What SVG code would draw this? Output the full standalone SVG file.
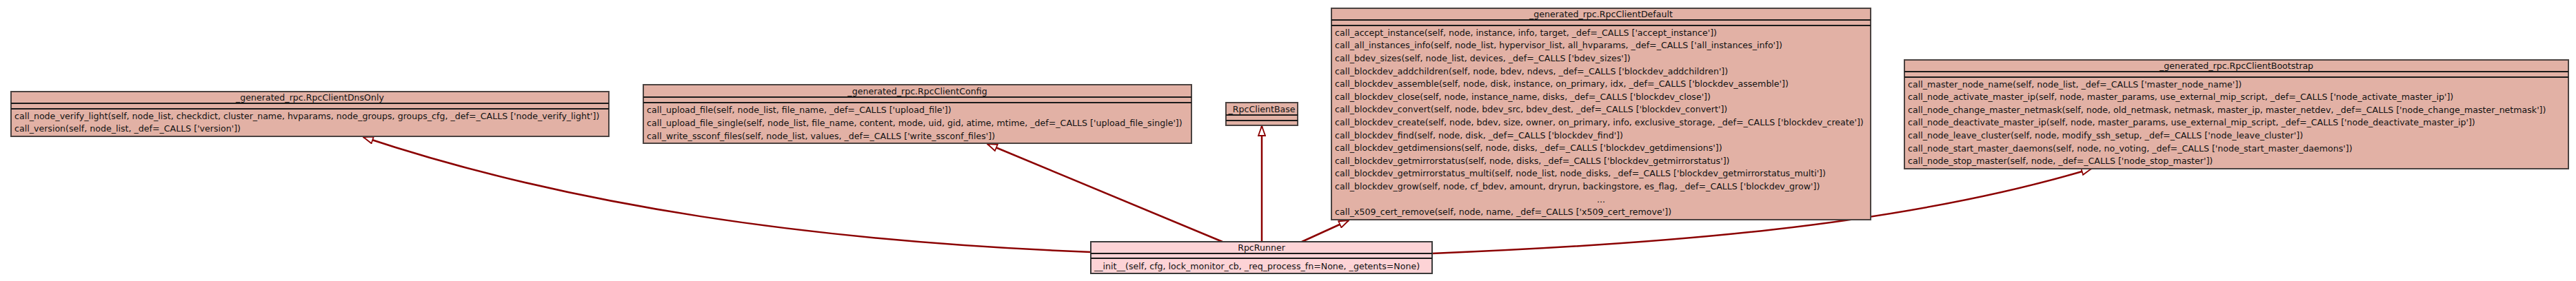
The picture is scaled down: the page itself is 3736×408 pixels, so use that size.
<svg xmlns="http://www.w3.org/2000/svg" width="3736" height="408" viewBox="0 0 3736 408">
<style>
.box{fill:#e2b1a5;stroke:#4a4240;stroke-width:2}
.runner{fill:#fdd3d6;stroke:#3a3a3a;stroke-width:2}
.div{stroke:#1a1a1a;stroke-width:2}
text{font-family:"DejaVu Sans",sans-serif;font-size:12.6px;fill:#111}
.t{text-anchor:middle}
.edge{fill:none;stroke:#8b0000;stroke-width:2.5;marker-end:url(#tri)}
</style>
<defs>
<marker id="tri" viewBox="0 0 16 12" refX="15" refY="6" markerWidth="16" markerHeight="12" markerUnits="userSpaceOnUse" orient="auto">
<path d="M1,1 L15,6 L1,11 Z" fill="#fff" stroke="#8b0000" stroke-width="1.8"/>
</marker>
</defs>
<rect width="3736" height="408" fill="#fff"/>
<g id="connectors">
<path class="edge" d="M1582,366 C1180,350 830,300 527,199"/>
<path class="edge" d="M1773,351 L1432,209"/>
<path class="edge" d="M1830,351 L1830,183"/>
<path class="edge" d="M1888,351 L1956,320"/>
<path class="edge" d="M2077,368 C2400,355 2750,330 3033,245"/>
</g>
<g id="RpcClientDnsOnly">
<rect class="box" x="16" y="133" width="867" height="65"/>
<line class="div" x1="16" y1="150" x2="883" y2="150"/>
<line class="div" x1="16" y1="158" x2="883" y2="158"/>
<text class="t" x="449.5" y="146">_generated_rpc.RpcClientDnsOnly</text>
<text x="21" y="172.5">call_node_verify_light(self, node_list, checkdict, cluster_name, hvparams, node_groups, groups_cfg, _def=_CALLS ['node_verify_light'])</text>
<text x="21" y="191">call_version(self, node_list, _def=_CALLS ['version'])</text>
</g>
<g id="RpcClientConfig">
<rect class="box" x="933" y="123" width="795" height="85"/>
<line class="div" x1="933" y1="141" x2="1728" y2="141"/>
<line class="div" x1="933" y1="149" x2="1728" y2="149"/>
<text class="t" x="1330.5" y="136.5">_generated_rpc.RpcClientConfig</text>
<text x="938" y="163.5">call_upload_file(self, node_list, file_name, _def=_CALLS ['upload_file'])</text>
<text x="938" y="182.5">call_upload_file_single(self, node_list, file_name, content, mode, uid, gid, atime, mtime, _def=_CALLS ['upload_file_single'])</text>
<text x="938" y="201.5">call_write_ssconf_files(self, node_list, values, _def=_CALLS ['write_ssconf_files'])</text>
</g>
<g id="RpcClientBase">
<rect class="box" x="1778" y="149" width="104" height="33"/>
<line class="div" x1="1778" y1="167" x2="1882" y2="167"/>
<line class="div" x1="1778" y1="175" x2="1882" y2="175"/>
<text class="t" x="1830" y="162.5">_RpcClientBase</text>
</g>
<g id="RpcClientDefault">
<rect class="box" x="1931" y="12" width="782" height="307"/>
<line class="div" x1="1931" y1="29" x2="2713" y2="29"/>
<line class="div" x1="1931" y1="37" x2="2713" y2="37"/>
<text class="t" x="2322" y="25">_generated_rpc.RpcClientDefault</text>
<text x="1936" y="51.8">call_accept_instance(self, node, instance, info, target, _def=_CALLS ['accept_instance'])</text>
<text x="1936" y="70.4">call_all_instances_info(self, node_list, hypervisor_list, all_hvparams, _def=_CALLS ['all_instances_info'])</text>
<text x="1936" y="89">call_bdev_sizes(self, node_list, devices, _def=_CALLS ['bdev_sizes'])</text>
<text x="1936" y="107.6">call_blockdev_addchildren(self, node, bdev, ndevs, _def=_CALLS ['blockdev_addchildren'])</text>
<text x="1936" y="126.2">call_blockdev_assemble(self, node, disk, instance, on_primary, idx, _def=_CALLS ['blockdev_assemble'])</text>
<text x="1936" y="144.8">call_blockdev_close(self, node, instance_name, disks, _def=_CALLS ['blockdev_close'])</text>
<text x="1936" y="163.4">call_blockdev_convert(self, node, bdev_src, bdev_dest, _def=_CALLS ['blockdev_convert'])</text>
<text x="1936" y="182">call_blockdev_create(self, node, bdev, size, owner, on_primary, info, exclusive_storage, _def=_CALLS ['blockdev_create'])</text>
<text x="1936" y="200.6">call_blockdev_find(self, node, disk, _def=_CALLS ['blockdev_find'])</text>
<text x="1936" y="219.2">call_blockdev_getdimensions(self, node, disks, _def=_CALLS ['blockdev_getdimensions'])</text>
<text x="1936" y="237.8">call_blockdev_getmirrorstatus(self, node, disks, _def=_CALLS ['blockdev_getmirrorstatus'])</text>
<text x="1936" y="256.4">call_blockdev_getmirrorstatus_multi(self, node_list, node_disks, _def=_CALLS ['blockdev_getmirrorstatus_multi'])</text>
<text x="1936" y="275">call_blockdev_grow(self, node, cf_bdev, amount, dryrun, backingstore, es_flag, _def=_CALLS ['blockdev_grow'])</text>
<text class="t" x="2322" y="293.6">...</text>
<text x="1936" y="312.2">call_x509_cert_remove(self, node, name, _def=_CALLS ['x509_cert_remove'])</text>
</g>
<g id="RpcClientBootstrap">
<rect class="box" x="2762" y="87" width="963" height="158"/>
<line class="div" x1="2762" y1="104" x2="3725" y2="104"/>
<line class="div" x1="2762" y1="112" x2="3725" y2="112"/>
<text class="t" x="3243.5" y="100">_generated_rpc.RpcClientBootstrap</text>
<text x="2767" y="126.5">call_master_node_name(self, node_list, _def=_CALLS ['master_node_name'])</text>
<text x="2767" y="145.1">call_node_activate_master_ip(self, node, master_params, use_external_mip_script, _def=_CALLS ['node_activate_master_ip'])</text>
<text x="2767" y="163.7">call_node_change_master_netmask(self, node, old_netmask, netmask, master_ip, master_netdev, _def=_CALLS ['node_change_master_netmask'])</text>
<text x="2767" y="182.3">call_node_deactivate_master_ip(self, node, master_params, use_external_mip_script, _def=_CALLS ['node_deactivate_master_ip'])</text>
<text x="2767" y="200.9">call_node_leave_cluster(self, node, modify_ssh_setup, _def=_CALLS ['node_leave_cluster'])</text>
<text x="2767" y="219.5">call_node_start_master_daemons(self, node, no_voting, _def=_CALLS ['node_start_master_daemons'])</text>
<text x="2767" y="238.1">call_node_stop_master(self, node, _def=_CALLS ['node_stop_master'])</text>
</g>
<g id="RpcRunner">
<rect class="runner" x="1582" y="351" width="495" height="46"/>
<line class="div" x1="1582" y1="368" x2="2077" y2="368"/>
<line class="div" x1="1582" y1="375" x2="2077" y2="375"/>
<text class="t" x="1829.5" y="364">RpcRunner</text>
<text x="1587" y="390.5">__init__(self, cfg, lock_monitor_cb, _req_process_fn=None, _getents=None)</text>
</g>
</svg>
